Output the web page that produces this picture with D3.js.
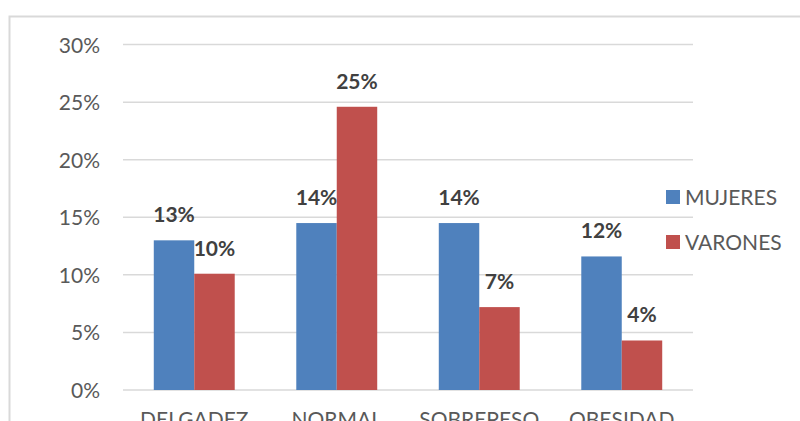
<!DOCTYPE html>
<html>
<head>
<meta charset="utf-8">
<script src="https://cdn.jsdelivr.net/npm/d3@7"></script>
<style>
  html, body { margin: 0; padding: 0; background: #fff; }
  svg { display: block; font-family: Lato, "Open Sans", sans-serif; }
</style>
</head>
<body>
<svg id="chart" width="800" height="421"></svg>
<script>
// Nutritional status by sex
const categories = ["DELGADEZ", "NORMAL", "SOBREPESO", "OBESIDAD"];
const seriesNames = ["MUJERES", "VARONES"];
const mujeres = [0.130, 0.145, 0.145, 0.116];
const varones = [0.101, 0.246, 0.072, 0.043];
const labelsMujeres = ["13%", "14%", "14%", "12%"];
const labelsVarones = ["10%", "25%", "7%", "4%"];
const yTicks = [0, 0.05, 0.10, 0.15, 0.20, 0.25, 0.30];
const colors = ["#4f81bd", "#c0504d"];

const svg = d3.select("#chart");

// chart frame
svg.append("path")
  .attr("d", "M9.5,421 V16.5 H800")
  .attr("fill", "none")
  .attr("stroke", "#d9d9d9")
  .attr("stroke-width", 2);

const plot = { left: 123, right: 693, top: 44.6, bottom: 390 };

const x = d3.scaleBand()
  .domain(categories)
  .range([plot.left, plot.right])
  .paddingInner(0.432)
  .paddingOuter(0.216);

const xs = d3.scaleBand()
  .domain(seriesNames)
  .range([0, x.bandwidth()]);

const y = d3.scaleLinear()
  .domain([0, 0.30])
  .range([plot.bottom, plot.top]);

// gridlines
svg.append("g")
  .selectAll("line")
  .data(yTicks)
  .join("line")
  .attr("x1", plot.left)
  .attr("x2", plot.right)
  .attr("y1", d => y(d))
  .attr("y2", d => y(d))
  .attr("stroke", "#d9d9d9")
  .attr("stroke-width", 1.5);

// y axis labels
const yAxis = d3.axisLeft(y)
  .tickValues(yTicks)
  .tickFormat(d3.format(".0%"))
  .tickSize(0)
  .tickPadding(0);

const yg = svg.append("g")
  .attr("transform", "translate(100,0)")
  .call(yAxis);
yg.select(".domain").remove();
yg.selectAll("text")
  .attr("font-family", "Lato, 'Open Sans', sans-serif")
  .attr("font-size", 21)
  .attr("fill", "#595959")
  .attr("dy", "0.36em");

// x axis labels
const xAxis = d3.axisBottom(x).tickSize(0).tickPadding(0);
const xg = svg.append("g")
  .attr("transform", `translate(0,${plot.bottom})`)
  .call(xAxis);
xg.select(".domain").remove();
xg.selectAll("text")
  .attr("font-family", "Lato, 'Open Sans', sans-serif")
  .attr("font-size", 21)
  .attr("fill", "#595959")
  .attr("dy", null)
  .attr("y", 37);

// bars
const rows = categories.map((c, i) => ({
  cat: c,
  values: [
    { s: seriesNames[0], v: mujeres[i], label: labelsMujeres[i], color: colors[0] },
    { s: seriesNames[1], v: varones[i], label: labelsVarones[i], color: colors[1] }
  ]
}));

const groups = svg.append("g")
  .selectAll("g")
  .data(rows)
  .join("g")
  .attr("transform", d => `translate(${x(d.cat)},0)`);

groups.selectAll("rect")
  .data(d => d.values)
  .join("rect")
  .attr("x", d => xs(d.s))
  .attr("width", xs.bandwidth())
  .attr("y", d => y(d.v))
  .attr("height", d => y(0) - y(d.v))
  .attr("fill", d => d.color);

groups.selectAll("text")
  .data(d => d.values)
  .join("text")
  .attr("x", d => xs(d.s) + xs.bandwidth() / 2)
  .attr("y", d => y(d.v) - 18)
  .attr("text-anchor", "middle")
  .attr("font-size", 21)
  .attr("font-weight", "bold")
  .attr("fill", "#404040")
  .text(d => d.label);

// legend
const legend = svg.append("g")
  .selectAll("g")
  .data(seriesNames)
  .join("g")
  .attr("transform", (d, i) => `translate(666,${190 + i * 45})`);

legend.append("rect")
  .attr("width", 14)
  .attr("height", 14)
  .attr("fill", (d, i) => colors[i]);

legend.append("text")
  .attr("x", 19)
  .attr("y", 14.5)
  .attr("font-size", 21)
  .attr("fill", "#595959")
  .text(d => d);
</script>
</body>
</html>
